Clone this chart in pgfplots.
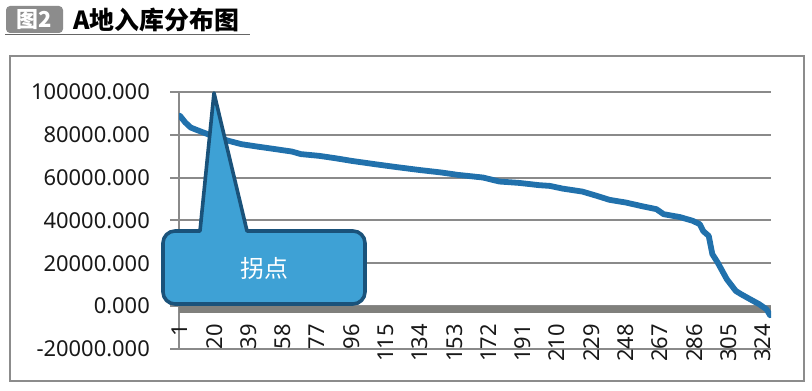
\documentclass[border=0pt]{standalone}
\usepackage{fontspec}
\setmainfont{Noto Sans}
\newfontfamily\cjk{Noto Sans CJK SC}
\usepackage{pgfplots}
\pgfplotsset{compat=1.18}
\definecolor{linec}{RGB}{33,113,172}
\definecolor{gridc}{RGB}{138,138,138}
\definecolor{bandc}{RGB}{128,128,124}
\definecolor{callfill}{RGB}{62,161,213}
\definecolor{calldraw}{RGB}{26,82,122}
\definecolor{framec}{RGB}{140,140,140}
\definecolor{tagc}{RGB}{140,140,140}

\begin{document}
\begin{tikzpicture}
\useasboundingbox (0,0) rectangle (812bp,391bp);
\fill[white] (0,0) rectangle (812bp,391bp);
% title
\fill[tagc, rounded corners=4bp] (6bp,358bp) rectangle (63bp,385bp);
\node[text=white, font=\cjk\bfseries\fontsize{22}{26}\selectfont, inner sep=0pt] at (34.5bp,371.5bp) {图2};
\node[anchor=base west, inner sep=0pt, font=\cjk\bfseries\fontsize{25}{30}\selectfont] at (73bp,361bp) {A地入库分布图};
\draw[black!60, line width=1.5bp] (5bp,356.5bp) -- (250bp,356.5bp);
\draw[framec, line width=2bp] (10bp,10bp) rectangle (804bp,335bp);

\begin{axis}[at={(179bp,42bp)}, anchor=south west, scale only axis,
  width=592bp, height=257bp,
  xmin=0.5, xmax=328.5, ymin=-20000, ymax=100000,
  scaled y ticks=false, scaled x ticks=false,
  axis x line=middle, axis y line=left, axis line style={-},
  x axis line style={draw=none},
  y axis line style={gridc, line width=2bp},
  ytick={-20000,0,20000,40000,60000,80000,100000},
  yticklabels={-20000.000,0.000,20000.000,40000.000,60000.000,80000.000,100000.000},
  xtick={1,20,39,58,77,96,115,134,153,172,191,210,229,248,267,286,305,324},
  /pgf/number format/assume math mode=true,
  ymajorgrids, major grid style={gridc, line width=2bp},
  ytick style={gridc, line width=2bp}, tick align=outside,
  major tick length=9bp,
  xtick style={draw=none},
  tick label style={font=\fontsize{22}{26}\selectfont, text=black!90},
  yticklabel style={inner sep=0pt, anchor=east},
  yticklabel shift=20bp,
  xticklabel style={inner sep=0pt, rotate=90, anchor=east},
  xticklabel shift=9bp,
]
\draw[bandc, line width=7bp] ([yshift=-3.5bp]axis cs:0.5,0) -- ([yshift=-3.5bp]axis cs:328.5,0);
\addplot[linec, line width=5.8bp, line join=round, line cap=round] coordinates {
(1,88900) (4,85750) (7,83400) (13,81400) (20,79200) (28,77200) (35,75650)
(44,74500) (54,73300) (63,72200) (68,71000) (78,70200) (87,69100) (96,67850)
(109,66300) (120,65050) (133,63650) (146,62400) (155,61300) (163,60600)
(169,60050) (178,58200) (189,57550) (200,56500) (206,56150) (213,54900)
(224,53500) (232,51500) (239,49650) (248,48400) (258,46500) (265,45300)
(269,42950) (278,41600) (285,39900) (289,38300) (291,35000) (294,32800)
(296,24300) (299,20300) (301,17200) (304,12600) (309,7100) (312,5550)
(317,3200) (322,900) (326,-1450) (328,-4250)
};
\end{axis}

% callout
\draw[fill=callfill, draw=calldraw, line width=3.6bp, line join=round]
  (200bp,160bp) -- (214bp,298bp) -- (247bp,160bp) -- (353bp,160bp)
  arc[start angle=90, end angle=0, radius=12bp] -- (365bp,99bp)
  arc[start angle=0, end angle=-90, radius=12bp] -- (175bp,87bp)
  arc[start angle=270, end angle=180, radius=12bp] -- (163bp,148bp)
  arc[start angle=180, end angle=90, radius=12bp] -- cycle;
\node[text=white, font=\cjk\fontsize{24}{28}\selectfont, inner sep=0pt] at (264bp,123bp) {拐点};
\end{tikzpicture}
\end{document}
